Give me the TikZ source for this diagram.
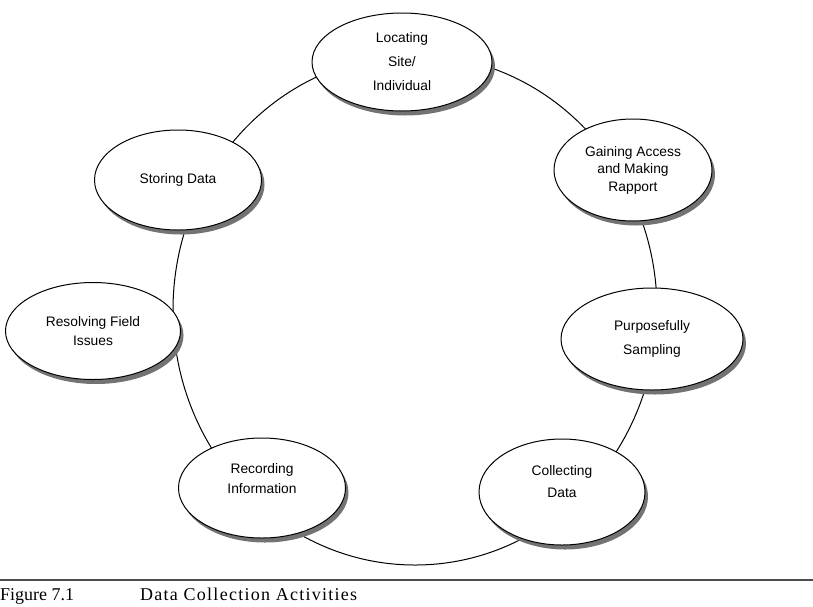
\documentclass[tikz,border=0pt]{standalone}
\usepackage{fontspec}
\setmainfont{Liberation Serif}
\newfontfamily\labelfont{Liberation Sans}
\usetikzlibrary{shapes.geometric,shadows,backgrounds}

\tikzset{
  activity/.style={
    ellipse, draw=black, line width=1pt, fill=white, inner sep=0pt,
    align=center, font=\labelfont\fontsize{13.8}{20}\selectfont,
    drop shadow={shadow xshift=3pt, shadow yshift=-4.5pt, opacity=1, fill=black!55}
  },
  size/.style n args={2}{minimum width=#1pt, minimum height=#2pt},
  lead/.style={font=\labelfont\fontsize{13.8}{#1}\selectfont},
  cycleline/.style={draw=black, line width=1pt},
  rule/.style={draw=black!70, line width=1.5pt},
  caption/.style={anchor=base west, inner sep=0pt, font=\fontsize{18}{20}\selectfont}
}

\begin{document}
\begin{tikzpicture}[x=1pt, y=-1pt]
  \useasboundingbox (0,0) rectangle (813,606);

  % the seven activities
  \node[activity, size={180}{98}, lead=24pt] (locate) at (402,62)
    {Locating\\Site/\\Individual};
  \node[activity, size={158}{102}, lead=17.5pt] (access) at (633,170)
    {Gaining Access\\and Making\\Rapport};
  \node[activity, size={182}{102}, lead=24pt] (sample) at (652,339)
    {Purposefully\\Sampling};
  \node[activity, size={166}{106}, lead=22pt] (collect) at (562,492)
    {Collecting\\Data\\[0pt]};
  \node[activity, size={167}{100}, lead=20pt] (record) at (262,488)
    {Recording\\Information\\[0pt]};
  \node[activity, size={175}{97}, lead=19pt] (resolve) at (93,331)
    {Resolving Field\\Issues};
  \node[activity, size={167}{100}] (store) at (178,180) {Storing Data};

  % the ring that links the activities, behind the ellipses
  \coordinate (hub) at (415,310);
  \begin{scope}[on background layer]
    \draw[cycleline] (hub) ellipse [x radius=242pt, y radius=255pt];
  \end{scope}

  % caption
  \coordinate (ruleL) at (0,580);
  \coordinate (ruleR) at (813,580);
  \draw[rule] (ruleL) -- (ruleR);
  \node[caption] (fig) at (0,600) {Figure 7.1};
  \node[caption] (title) at (140,600)
    {\addfontfeature{LetterSpace=7}Data Collection Activities};
\end{tikzpicture}
\end{document}
